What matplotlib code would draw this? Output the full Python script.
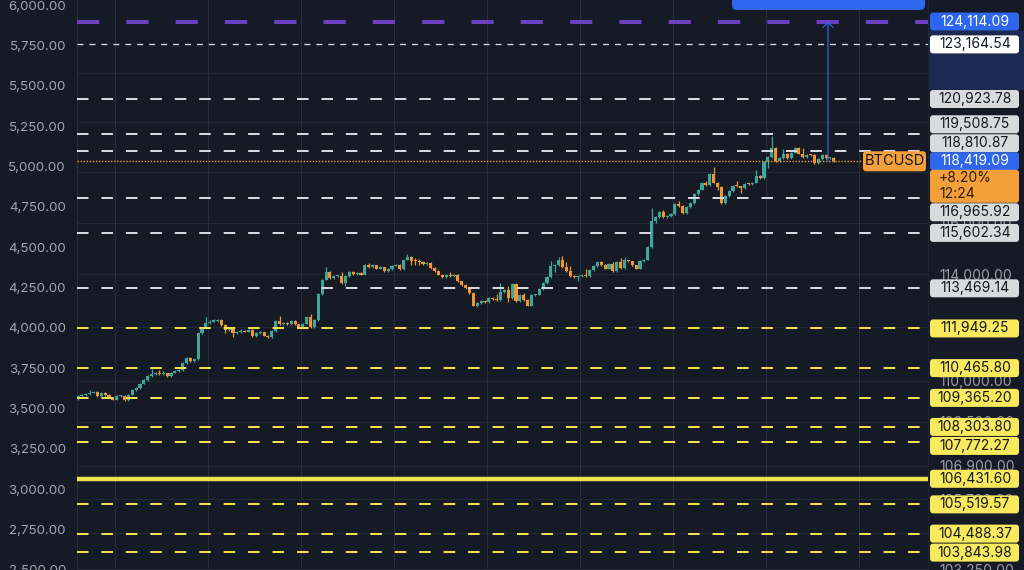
import matplotlib
matplotlib.use("Agg")
import matplotlib.pyplot as plt
from matplotlib.patches import FancyBboxPatch, Rectangle
from matplotlib.transforms import IdentityTransform
from matplotlib.ticker import NullLocator

plt.rcParams['font.family'] = ['Inter', 'DejaVu Sans']
plt.rcParams['lines.scale_dashes'] = False

W, H = 1024, 570

# hourly BTCUSD candles
first_open = 109340
closes = [
    109430, 109480, 109500, 109560, 109580, 109440, 109540, 109470, 109380, 109300, 109430, 109450,
    109290, 109490, 109660, 109740, 109890, 110030, 110180, 110230, 110270, 110230, 110270, 110180,
    110300, 110370, 110400, 110640, 110830, 110740, 110800, 111770, 111950, 112140, 112210, 112230,
    112280, 112080, 111890, 111930, 111770, 111800, 111870, 111830, 111880, 111670, 111770, 111800,
    111680, 111630, 111850, 112230, 112120, 112170, 112100, 112230, 112100, 112010, 112130, 112390,
    112010, 112260, 113250, 113800, 114090, 113860, 113940, 113950, 113680, 113940, 114100, 114000,
    114050, 113990, 114350, 114270, 114350, 114220, 114270, 114120, 114210, 114340, 114370, 114190,
    114570, 114670, 114530, 114500, 114470, 114400, 114430, 114240, 114140, 113990, 113910, 113960,
    113940, 113990, 113730, 113600, 113470, 113280, 112810, 112900, 112970, 112940, 113090, 113070,
    113030, 113320, 113410, 113090, 113630, 112990, 113220, 113030, 112810, 113220, 113230, 113440,
    113670, 113890, 114310, 114370, 114570, 114270, 114120, 113950, 113890, 113950, 113960, 113940,
    114180, 114310, 114470, 114370, 114220, 114410, 114120, 114470, 114240, 114540, 114500, 114350,
    114220, 114500, 114570, 115050, 116080, 116210, 116420, 116210, 116250, 116340, 116740, 116650,
    116380, 116600, 116780, 117130, 117300, 117570, 117480, 117900, 117570, 117400, 116780, 117040,
    117240, 117440, 117420, 117370, 117530, 117520, 117570, 117830, 117760, 118400, 118590, 118940,
    118430, 118540, 118700, 118540, 118760, 118960, 118720, 118590, 118670, 118660, 118360, 118500,
    118670, 118540, 118550, 118419.09,
]
highs = [
    109470, 109520, 109540, 109650, 109610, 109610, 109570, 109580, 109500, 109410, 109460, 109490,
    109480, 109520, 109700, 109780, 109930, 110070, 110220, 110420, 110310, 110390, 110370, 110300,
    110340, 110410, 110440, 110680, 110870, 110870, 110840, 111810, 111990, 112370, 112250, 112310,
    112320, 112310, 112110, 111970, 111960, 111840, 111910, 111900, 111920, 111910, 111810, 111840,
    111830, 111710, 111890, 112270, 112430, 112210, 112200, 112270, 112260, 112130, 112170, 112430,
    112510, 112300, 113290, 113840, 114270, 114120, 113980, 113990, 114090, 113980, 114140, 114130,
    114090, 114080, 114390, 114420, 114390, 114380, 114310, 114300, 114250, 114380, 114410, 114400,
    114610, 114780, 114700, 114620, 114580, 114500, 114470, 114460, 114270, 114170, 114020, 114000,
    114080, 114030, 114020, 113760, 113630, 113500, 113310, 112940, 113010, 113000, 113130, 113120,
    113250, 113670, 113450, 113540, 113670, 113660, 113260, 113290, 113060, 113260, 113270, 113480,
    113710, 113930, 114500, 114410, 114660, 114690, 114470, 114310, 113980, 113990, 114000, 114220,
    114220, 114350, 114510, 114500, 114400, 114450, 114470, 114510, 114630, 114660, 114570, 114530,
    114380, 114540, 114610, 115090, 116580, 116250, 116460, 116510, 116290, 116380, 116780, 116840,
    116680, 116640, 116820, 117170, 117340, 117610, 117630, 117940, 118190, 117600, 117430, 117080,
    117280, 117480, 117630, 117450, 117570, 117560, 117610, 118060, 117860, 118440, 118630, 119430,
    118970, 118580, 118900, 118730, 118800, 119000, 118990, 118940, 118710, 118700, 118690, 118540,
    118710, 118700, 118590, 118580,
]
lows = [
    109300, 109400, 109450, 109470, 109530, 109410, 109410, 109440, 109350, 109270, 109270, 109400,
    109250, 109260, 109460, 109630, 109710, 109860, 110000, 110150, 110200, 110200, 110200, 110150,
    110150, 110270, 110340, 110370, 110610, 110700, 110710, 110770, 111740, 111920, 112110, 112180,
    112200, 112050, 111770, 111860, 111640, 111740, 111770, 111800, 111800, 111640, 111640, 111740,
    111650, 111600, 111600, 111820, 112090, 112090, 112070, 112070, 112070, 111980, 111980, 112100,
    111980, 111980, 112230, 113220, 113770, 113830, 113830, 113910, 113650, 113540, 113910, 113970,
    113970, 113960, 113960, 114240, 114240, 114190, 114190, 114090, 114090, 114180, 114310, 114160,
    114160, 114540, 114370, 114380, 114380, 114370, 114370, 114210, 114110, 113960, 113880, 113880,
    113910, 113910, 113700, 113570, 113440, 113250, 112780, 112740, 112870, 112910, 112910, 113040,
    113000, 113000, 113290, 112940, 113060, 112960, 112960, 113000, 112780, 112780, 113190, 113200,
    113410, 113640, 113860, 114090, 114340, 114240, 114090, 113920, 113860, 113760, 113920, 113910,
    113910, 114150, 114280, 114340, 114190, 114190, 114090, 114090, 114210, 114210, 114470, 114320,
    114190, 114190, 114470, 114540, 115020, 115990, 116180, 116180, 116180, 116220, 116310, 116620,
    116350, 116350, 116570, 116750, 117100, 117270, 117450, 117450, 117540, 117300, 116750, 116750,
    117010, 117210, 117390, 117170, 117340, 117490, 117490, 117540, 117730, 117730, 118160, 118560,
    118400, 118400, 118510, 118510, 118510, 118730, 118690, 118560, 118560, 118630, 118330, 118330,
    118470, 118510, 118510, 118390,
]

symbol = "BTCUSD"
current_price = 118419.09
change_text = "+8.20%"
countdown = "12:24"

target_price = 124114.09
thin_level = 123164.54
white_levels = [120923.78, 119508.75, 118810.87, 116965.92, 115602.34, 113469.14]
yellow_levels = [111949.25, 110465.80, 109365.20, 108303.80, 107772.27, 105519.57, 104488.37, 103843.98]
yellow_solid = 106431.60

price_ticks = [122000, 120000, 118000, 116000, 114000, 112000, 110000, 108500, 106900, 105700, 104500, 103250]
left_ticks = [6000, 5750, 5500, 5250, 5000, 4750, 4500, 4250, 4000, 3750, 3500, 3250, 3000, 2750, 2500]
day_lines = [9.5, 33.5, 57.5, 81.5, 105.5, 129.5, 153.5, 177.5, 201.5]
arrow_x = 193.5

BG = '#161a25'
GRID = '#242835'
TEAL = '#3fa69a'
ORANGE = '#f0962f'
WHITE_LINE = '#d6d8de'
YELLOW_LINE = '#f0e150'
YELLOW_BOX = '#f9e95c'
GRAY_BOX = '#d9dade'
BLUE = '#2f66f0'
PURPLE = '#6a3fc1'
DARK = '#131722'
AXIS_TXT = '#9a9da6'

opens = [first_open] + closes[:-1]
n = len(closes)
xs = list(range(n))

fig = plt.figure(figsize=(W / 100, H / 100), dpi=100)
fig.patch.set_facecolor(BG)

ax = fig.add_axes([77 / W, 0, (928 - 77) / W, 1])
ax.set_facecolor(BG)
ax.set_yscale('log')
ax.set_ylim(103218, 125016)
ax.set_xlim(-0.26, 219.3)

ax.yaxis.set_minor_locator(NullLocator())
ax.set_yticks(price_ticks)
ax.set_yticklabels([f"{v:,.2f}" for v in price_ticks])
ax.yaxis.tick_right()
ax.tick_params(axis='y', length=0, pad=8, labelsize=10, labelcolor=AXIS_TXT)
ax.set_xticks(day_lines)
ax.tick_params(axis='x', length=0, labelbottom=False)
ax.grid(True, axis='y', color=GRID, lw=0.75, zorder=0)
ax.grid(True, axis='x', color='#2a2e3b', lw=0.75, zorder=0)
for side in ['top', 'bottom']:
    ax.spines[side].set_visible(False)
ax.spines['left'].set_color('#2a2e3b')
ax.spines['right'].set_color('#1f2330')

# candles
up = [c >= o for o, c in zip(opens, closes)]
cols = [TEAL if u else ORANGE for u in up]
ax.vlines(xs, lows, highs, colors=cols, lw=0.9, zorder=2)
bottoms = [min(o, c) for o, c in zip(opens, closes)]
heights = [max(abs(c - o), 40) for o, c in zip(opens, closes)]
ax.bar(xs, heights, bottom=bottoms, width=0.8, color=cols, lw=0, zorder=3)

# horizontal levels
ax.axhline(target_price, color=PURPLE, lw=2.9, dashes=(16, 19.5), zorder=4)
ax.axhline(thin_level, color=WHITE_LINE, lw=0.95, dashes=(4.3, 4.3), zorder=4)
for p in white_levels:
    ax.axhline(p, color=WHITE_LINE, lw=1.45, dashes=(8.3, 9.3), zorder=4)
for p in yellow_levels:
    ax.axhline(p, color=YELLOW_LINE, lw=1.45, dashes=(8.3, 9.3), zorder=4)
ax.axhline(yellow_solid, color=YELLOW_LINE, lw=3.2, zorder=4)
ax.axhline(current_price, xmax=(862 - 77) / (928 - 77), color='#f59a30', lw=1.0,
           dashes=(1.0, 1.2), zorder=4)

ax.annotate('', xy=(arrow_x, target_price), xytext=(arrow_x, current_price),
            arrowprops=dict(arrowstyle='->,head_length=0.38,head_width=0.38',
                            color='#2f62f0', lw=0.9, shrinkA=0, shrinkB=0), zorder=5)

# left price scale (cut off in the screenshot)
axl = fig.add_axes([66 / W, 0, 11 / W, 1])
axl.patch.set_alpha(0)
axl.set_ylim(2498, 6031)
axl.set_yticks(left_ticks)
axl.set_yticklabels([f"{v:,.2f}" for v in left_ticks])
axl.tick_params(axis='y', length=0, pad=0, labelsize=9.6, labelcolor='#a2a5ad')
axl.set_xticks([])
for s in axl.spines.values():
    s.set_visible(False)

# right price scale labels
ident = IdentityTransform()


def top_px(price):
    return H - ax.transData.transform((0, price))[1]


def box(x0, top, w, h, face, z=2, r=3):
    fig.add_artist(FancyBboxPatch((x0, H - top - h), w, h,
                                  boxstyle=f"round,pad=0,rounding_size={r}",
                                  fc=face, ec='none', transform=ident, zorder=z))


def label(top_center, text, face, color):
    box(930, top_center - 9, 89, 18, face)
    fig.text(975, H - top_center, text, color=color, fontsize=10, ha='center',
             va='center', transform=ident, zorder=3)


fig.add_artist(Rectangle((929, H - 90), 95, 59, fc='#1c2950', ec='none',
                         transform=ident, zorder=1))

cur_top = top_px(current_price)
block_top = cur_top - 8.5
block_bottom = cur_top + 8.5 + 33
step = 19

levels = [(target_price, BLUE, 'white'), (thin_level, 'white', DARK)]
levels += [(p, GRAY_BOX, DARK) for p in white_levels]
levels += [(p, YELLOW_BOX, DARK) for p in yellow_levels + [yellow_solid]]

limit = block_top
for p, face, color in sorted([l for l in levels if l[0] > current_price]):
    y = min(top_px(p), limit - step / 2)
    limit = y - step / 2
    label(y, f"{p:,.2f}", face, color)

limit = block_bottom
for p, face, color in sorted([l for l in levels if l[0] < current_price], reverse=True):
    y = max(top_px(p), limit + step / 2)
    limit = y + step / 2
    label(y, f"{p:,.2f}", face, color)

label(cur_top, f"{current_price:,.2f}", BLUE, 'white')
box(930, cur_top + 8.5, 89, 33, '#f4a03a')
fig.text(939, H - cur_top - 17, change_text, color='#2a1c06', fontsize=10,
         ha='left', va='center', transform=ident, zorder=3)
fig.text(939, H - cur_top - 33, countdown, color='#2a1c06', fontsize=10,
         ha='left', va='center', transform=ident, zorder=3)

# symbol tag at the end of the price line
box(863, cur_top - 10, 63, 20, '#f4a03a')
fig.text(894.5, H - cur_top, symbol, color=DARK, fontsize=10.5, ha='center',
         va='center', transform=ident, zorder=3)

# measuring tool tooltip, cut at the top edge
box(732, -25, 193, 35, BLUE, r=5)

fig.savefig("out.png", dpi=100, facecolor=BG)
